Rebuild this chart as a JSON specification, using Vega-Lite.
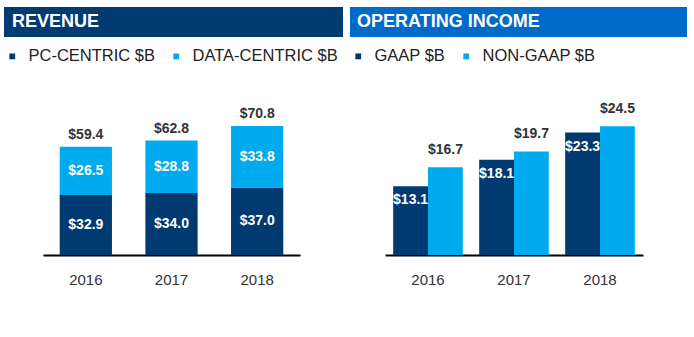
{
  "$schema": "https://vega.github.io/schema/vega-lite/v6.json",
  "padding": {"left": 4, "top": 7, "right": 0, "bottom": 0},
  "spacing": 7,
  "config": {"view": {"stroke": null}, "font": "Liberation Sans"},
  "hconcat": [
    {
      "bounds": "flush",
      "spacing": 3,
      "vconcat": [
        {
          "width": 339,
          "height": 30,
          "view": {"fill": "#003C71", "stroke": null},
          "data": {"values": [{"t": "REVENUE"}]},
          "mark": {"type": "text", "align": "left", "baseline": "middle", "dx": 8, "fontSize": 18, "fontWeight": "bold", "color": "#FFFFFF"},
          "encoding": {
            "text": {"field": "t"},
            "x": {"datum": 0, "type": "quantitative", "scale": {"domain": [0, 1]}, "axis": null}
          }
        },
        {
          "width": 339,
          "height": 215,
          "data": {"values": [
            {"year": "2016", "s": "PC-CENTRIC $B", "v": 32.9},
            {"year": "2016", "s": "DATA-CENTRIC $B", "v": 26.5},
            {"year": "2017", "s": "PC-CENTRIC $B", "v": 34.0},
            {"year": "2017", "s": "DATA-CENTRIC $B", "v": 28.8},
            {"year": "2018", "s": "PC-CENTRIC $B", "v": 37.0},
            {"year": "2018", "s": "DATA-CENTRIC $B", "v": 33.8}
          ]},
          "encoding": {
            "x": {
              "field": "year", "type": "nominal",
              "scale": {"range": [39, 296], "paddingInner": 0.39, "paddingOuter": 0.195},
              "axis": {"title": null, "domainColor": "#000000", "domainWidth": 2, "ticks": false, "grid": false, "labelAngle": 0, "labelFontSize": 15, "labelColor": "#333333", "labelPadding": 17}
            }
          },
          "layer": [
            {
              "mark": {"type": "bar"},
              "encoding": {
                "y": {"field": "v", "type": "quantitative", "stack": "zero", "scale": {"domain": [0, 118], "nice": false, "zero": true}, "axis": null},
                "color": {
                  "field": "s", "type": "nominal",
                  "scale": {"domain": ["PC-CENTRIC $B", "DATA-CENTRIC $B"], "range": ["#003A70", "#00AAEE"]},
                  "legend": {"orient": "none", "legendX": 0, "legendY": 41, "direction": "horizontal", "title": null, "symbolType": "square", "symbolSize": 34, "symbolStrokeWidth": 0, "labelFontSize": 16.5, "labelColor": "#222222", "labelOffset": 8, "columnPadding": 12, "labelLimit": 0}
                },
                "order": {"field": "s", "sort": "descending"}
              }
            },
            {
              "transform": [
                {"stack": "v", "groupby": ["year"], "sort": [{"field": "s", "order": "descending"}], "as": ["y0", "y1"]},
                {"fold": ["y0", "y1"], "as": ["k", "pos"]},
                {"aggregate": [{"op": "mean", "field": "pos", "as": "mid"}], "groupby": ["year", "s", "v"]}
              ],
              "mark": {"type": "text", "baseline": "middle", "fontSize": 14, "fontWeight": "bold", "color": "#FFFFFF"},
              "encoding": {
                "y": {"field": "mid", "type": "quantitative", "axis": null},
                "text": {"field": "v", "type": "quantitative", "format": "$.1f"}
              }
            },
            {
              "mark": {"type": "text", "baseline": "alphabetic", "dy": -8, "fontSize": 14, "fontWeight": "bold", "color": "#333333"},
              "encoding": {
                "y": {"aggregate": "sum", "field": "v", "type": "quantitative", "axis": null},
                "text": {"aggregate": "sum", "field": "v", "type": "quantitative", "format": "$.1f"}
              }
            }
          ]
        }
      ]
    },
    {
      "bounds": "flush",
      "spacing": 3,
      "vconcat": [
        {
          "width": 337,
          "height": 30,
          "view": {"fill": "#006AC8", "stroke": null},
          "data": {"values": [{"t": "OPERATING INCOME"}]},
          "mark": {"type": "text", "align": "left", "baseline": "middle", "dx": 7, "fontSize": 18, "fontWeight": "bold", "color": "#FFFFFF"},
          "encoding": {
            "text": {"field": "t"},
            "x": {"datum": 0, "type": "quantitative", "scale": {"domain": [0, 1]}, "axis": null}
          }
        },
        {
          "width": 337,
          "height": 215,
          "data": {"values": [
            {"year": "2016", "s": "GAAP $B", "v": 13.1},
            {"year": "2016", "s": "NON-GAAP $B", "v": 16.7},
            {"year": "2017", "s": "GAAP $B", "v": 18.1},
            {"year": "2017", "s": "NON-GAAP $B", "v": 19.7},
            {"year": "2018", "s": "GAAP $B", "v": 23.3},
            {"year": "2018", "s": "NON-GAAP $B", "v": 24.5}
          ]},
          "encoding": {
            "x": {
              "field": "year", "type": "nominal",
              "scale": {"range": [35, 293], "paddingInner": 0.19, "paddingOuter": 0.095},
              "axis": {"title": null, "domainColor": "#000000", "domainWidth": 2, "ticks": false, "grid": false, "labelAngle": 0, "labelFontSize": 15, "labelColor": "#333333", "labelPadding": 17}
            },
            "xOffset": {"field": "s", "type": "nominal", "scale": {"domain": ["GAAP $B", "NON-GAAP $B"], "paddingInner": 0, "paddingOuter": 0}}
          },
          "layer": [
            {
              "mark": {"type": "bar"},
              "encoding": {
                "y": {"field": "v", "type": "quantitative", "scale": {"domain": [0, 40.9], "nice": false, "zero": true}, "axis": null},
                "color": {
                  "field": "s", "type": "nominal",
                  "scale": {"domain": ["GAAP $B", "NON-GAAP $B"], "range": ["#003A70", "#00AAEE"]},
                  "legend": {"orient": "none", "legendX": -2, "legendY": 41, "direction": "horizontal", "title": null, "symbolType": "square", "symbolSize": 34, "symbolStrokeWidth": 0, "labelFontSize": 16.5, "labelColor": "#222222", "labelOffset": 8, "columnPadding": 12, "labelLimit": 0}
                }
              }
            },
            {
              "transform": [{"filter": "datum.s === 'GAAP $B'"}],
              "mark": {"type": "text", "baseline": "alphabetic", "dy": 18, "fontSize": 14, "fontWeight": "bold", "color": "#FFFFFF"},
              "encoding": {
                "y": {"field": "v", "type": "quantitative", "axis": null},
                "text": {"field": "v", "type": "quantitative", "format": "$.1f"}
              }
            },
            {
              "transform": [{"filter": "datum.s === 'NON-GAAP $B'"}],
              "mark": {"type": "text", "baseline": "alphabetic", "dy": -13, "fontSize": 14, "fontWeight": "bold", "color": "#333333"},
              "encoding": {
                "y": {"field": "v", "type": "quantitative", "axis": null},
                "text": {"field": "v", "type": "quantitative", "format": "$.1f"}
              }
            }
          ]
        }
      ]
    }
  ]
}
